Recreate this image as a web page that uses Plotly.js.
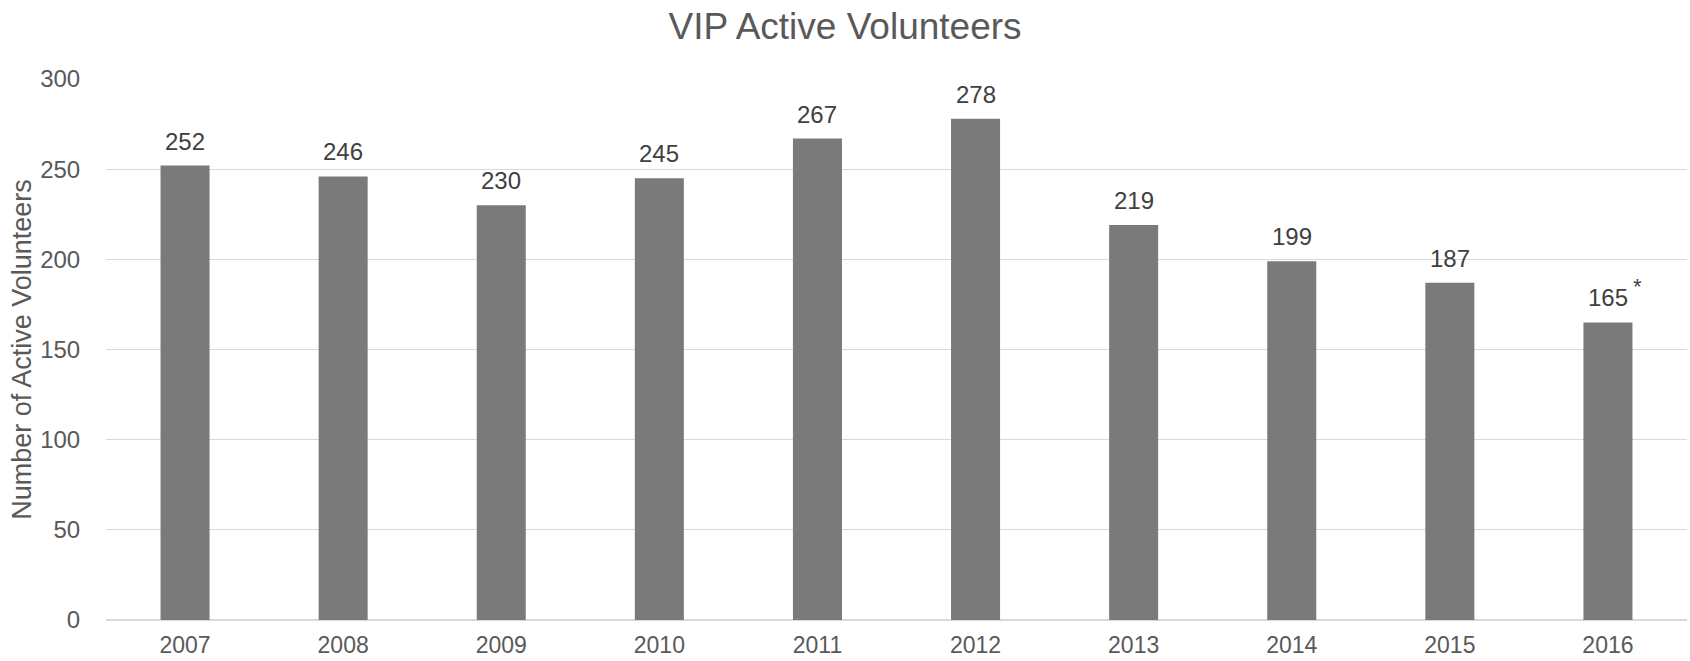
<!DOCTYPE html>
<html><head><meta charset="utf-8">
<script src="https://cdn.plot.ly/plotly-3.0.1.min.js"></script>
<style>html,body{margin:0;padding:0;background:#fff}#chart{width:1690px;height:661px}</style>
</head><body><div id="chart"></div>
<script>
const years = ['2007','2008','2009','2010','2011','2012','2013','2014','2015','2016'];
const volunteers = [252, 246, 230, 245, 267, 278, 219, 199, 187, 165];
const yTicks = [0, 50, 100, 150, 200, 250, 300];
const footnoteYear = '2016';
const footnoteMark = '*';

const font = 'Liberation Sans, Arial, sans-serif';
const idx = years.map((_, i) => i);
const annotations = years.map((y, i) => ({
  x: i, y: volunteers[i], text: String(volunteers[i]), showarrow: false,
  xref: 'x', yref: 'y', yanchor: 'bottom', yshift: 9,
  font: {family: font, size: 24, color: '#404040'}
}));
const fi = years.indexOf(footnoteYear);
annotations.push({
  x: fi, y: volunteers[fi], text: footnoteMark, showarrow: false,
  xref: 'x', yref: 'y', yanchor: 'bottom', xshift: 30, yshift: 21,
  font: {family: font, size: 22, color: '#404040'}
});

Plotly.newPlot('chart', [{
  type: 'bar', x: idx, y: volunteers, width: 0.31,
  marker: {color: '#7a7a7a'}, hoverinfo: 'y'
}], {
  width: 1690, height: 661,
  margin: {l: 106, r: 3, t: 79, b: 41, pad: 0},
  paper_bgcolor: '#ffffff', plot_bgcolor: '#ffffff',
  showlegend: false,
  title: {text: 'VIP Active Volunteers', x: 0.5, xanchor: 'center', yref: 'container', y: 0.96, yanchor: 'middle',
    font: {family: font, size: 37, color: '#595959'}},
  xaxis: {type: 'linear', range: [-0.5, 9.5], tickvals: idx, ticktext: years,
    showgrid: false, ticks: 'outside', ticklen: 4, tickcolor: 'rgba(0,0,0,0)', showline: false, zeroline: false,
    tickfont: {family: font, size: 23, color: '#595959'}},
  yaxis: {range: [0, 300], tickvals: yTicks, showgrid: true, gridcolor: '#d9d9d9', gridwidth: 1.3,
    zeroline: true, zerolinecolor: '#d9d9d9', zerolinewidth: 1.5, ticks: 'outside', ticklen: 20, tickcolor: 'rgba(0,0,0,0)', showline: false,
    tickfont: {family: font, size: 24, color: '#595959'},
    title: {text: 'Number of Active Volunteers', standoff: 0,
      font: {family: font, size: 27, color: '#595959'}}},
  annotations: annotations
}, {displayModeBar: false, staticPlot: true});
</script></body></html>
